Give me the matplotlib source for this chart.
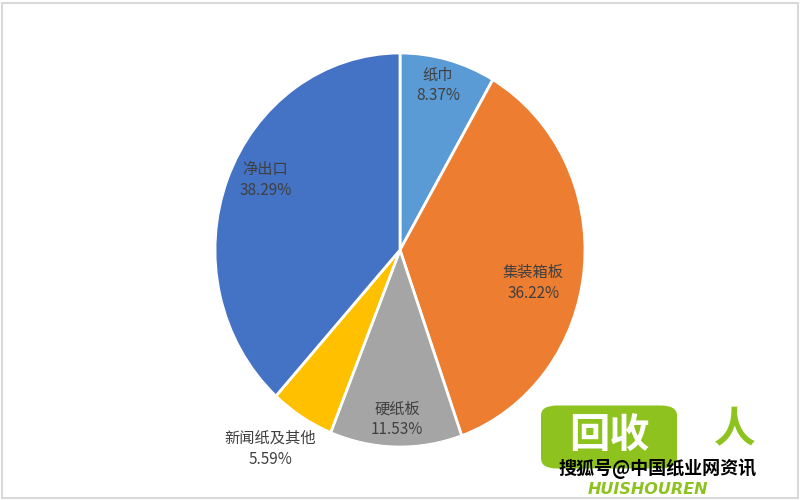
import numpy as np
import matplotlib
matplotlib.use("Agg")
import matplotlib.pyplot as plt
from matplotlib.patches import FancyBboxPatch, Rectangle

plt.rcParams['font.family'] = ['Noto Sans CJK SC', 'DejaVu Sans']

# ---- data ----
labels = ['纸巾', '集装箱板', '硬纸板', '新闻纸及其他', '净出口']
shares = [8.37, 36.22, 11.53, 5.59, 38.29]
colors = ['#5B9BD5', '#ED7D31', '#A5A5A5', '#FFC000', '#4472C4']

# label placement (radius, angle offset from slice middle, deg)
label_pos = [(0.86, 1.3), (0.74, -7.8), (0.86, 0.3), (1.23, -2.7), (0.81, -4.9)]

W, H = 800, 500
fig = plt.figure(figsize=(8, 5), dpi=100)

# pie is a little stretched vertically in the reference
cx, cy, rx, ry = 400, 250, 185, 197
ax = fig.add_axes([(cx - rx) / W, (H - cy - ry) / H, 2 * rx / W, 2 * ry / H])
wedges, _ = ax.pie(shares, colors=colors, startangle=90, counterclock=False,
                   wedgeprops=dict(edgecolor='white', linewidth=2))
ax.set_aspect('auto')
ax.set_xlim(-1, 1)
ax.set_ylim(-1, 1)
ax.axis('off')

for w, lab, val, (r, off) in zip(wedges, labels, shares, label_pos):
    mid = np.deg2rad((w.theta1 + w.theta2) / 2 + off)
    ax.text(r * np.cos(mid), r * np.sin(mid), f'{lab}\n{val:.2f}%',
            ha='center', va='center', fontsize=11, color='#404040',
            linespacing=1.3, clip_on=False)

# outer frame
fig.add_artist(Rectangle((1.5 / W, 2.5 / H), (W - 4) / W, (H - 5) / H,
                         transform=fig.transFigure, fill=False,
                         edgecolor='#d9d9d9', linewidth=1.5))

# watermark (rough)
fig.add_artist(FancyBboxPatch((545 / W, (H - 466) / H), 128 / W, 58 / H,
                              boxstyle='round,pad=0.005,rounding_size=0.02',
                              transform=fig.transFigure, facecolor='#8DC21F',
                              edgecolor='none'))
fig.text(609 / W, 1 - 435 / H, '回收', ha='center', va='center', fontsize=29,
         color='white', fontweight='bold')
fig.text(735 / W, 1 - 430 / H, '人', ha='center', va='center', fontsize=30,
         color='#8DC21F', fontweight='bold')
fig.text(658 / W, 1 - 469 / H, '搜狐号@中国纸业网资讯', ha='center', va='center',
         fontsize=13, color='black', fontweight='bold')
fig.text(648 / W, 1 - 489 / H, 'HUISHOUREN', ha='center', va='center',
         fontsize=11.5, color='#8DC21F', fontweight='bold', style='italic',
         family='DejaVu Sans')

fig.savefig('out.png', dpi=100)
